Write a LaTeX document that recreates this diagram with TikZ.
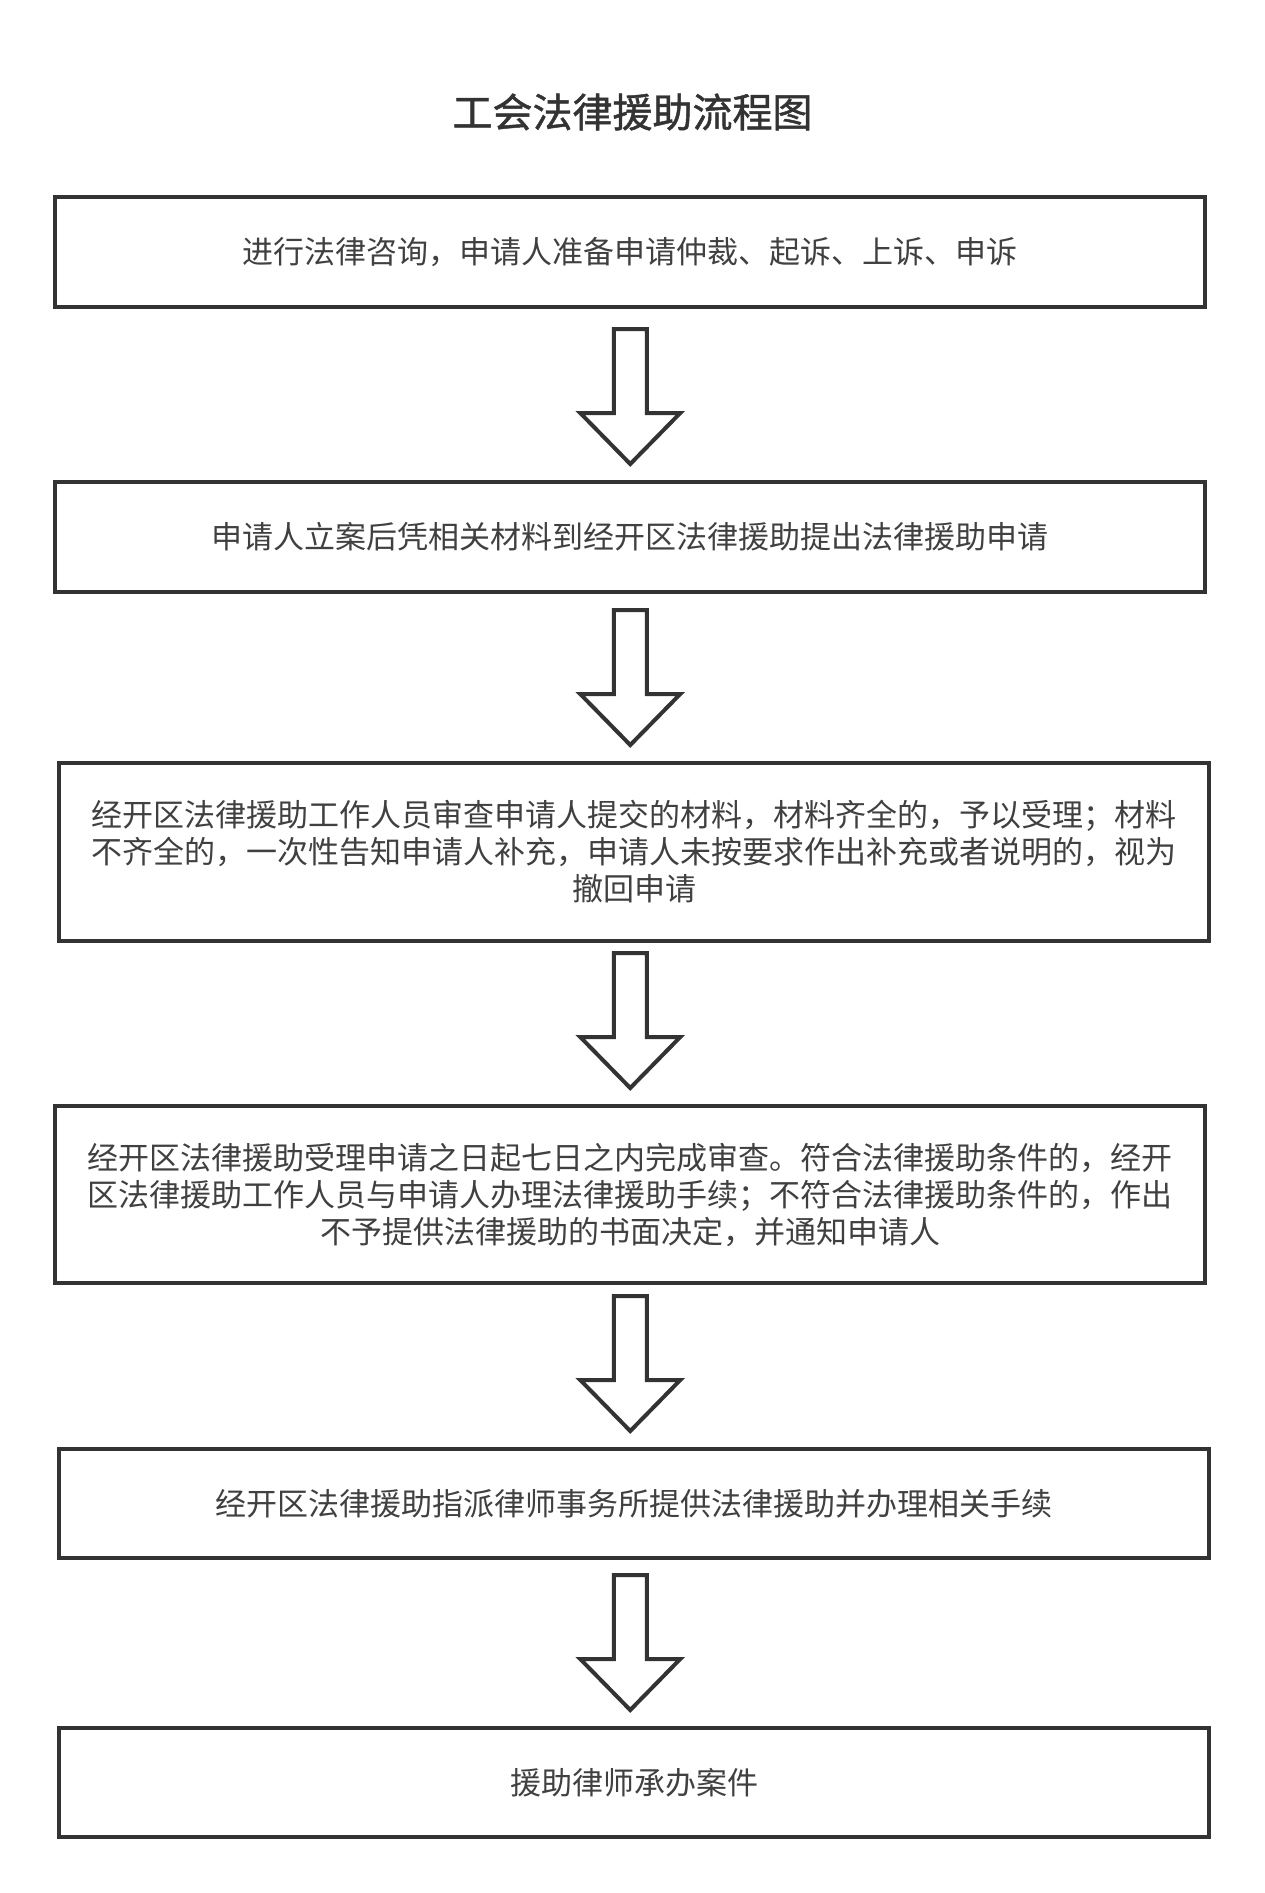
\documentclass[tikz,border=0pt]{standalone}
\usepackage{fontspec}
\newfontfamily\cjkfont{Noto Sans CJK SC}
\newfontfamily\cjktitle[FakeBold=1.2]{Noto Sans CJK SC}
\usetikzlibrary{calc}
\usepackage{xcolor}
\definecolor{linegray}{HTML}{333333}
\definecolor{textgray}{HTML}{404040}

\begin{document}
\begin{tikzpicture}[x=1pt,y=-1pt,
    stepbox/.style={draw=linegray, line width=4pt, minimum width=1150pt, minimum height=110pt,
      inner sep=0pt, align=center, text=textgray, font=\cjkfont\fontsize{31}{37}\selectfont},
    widebox/.style={stepbox, minimum height=178pt},
    bigarrow/.style={draw=linegray, line width=4pt, line join=miter, fill=white}]
  \useasboundingbox (0,0) rectangle (1265,1893);

  % Title
  \node[font=\cjktitle\fontsize{40}{48}\selectfont, text=linegray] (title) at (632.5,112) {工会法律援助流程图};

  % Boxes
  \node[stepbox] (s1) at (630.25,252) {进行法律咨询，申请人准备申请仲裁、起诉、上诉、申诉};
  \node[stepbox] (s2) at (630.25,537) {申请人立案后凭相关材料到经开区法律援助提出法律援助申请};
  \node[widebox] (s3) at (634,852) {经开区法律援助工作人员审查申请人提交的材料，材料齐全的，予以受理；材料\\不齐全的，一次性告知申请人补充，申请人未按要求作出补充或者说明的，视为\\撤回申请};
  \node[widebox, minimum height=177pt] (s4) at (630.25,1194.5) {经开区法律援助受理申请之日起七日之内完成审查。符合法律援助条件的，经开\\区法律援助工作人员与申请人办理法律援助手续；不符合法律援助条件的，作出\\不予提供法律援助的书面决定，并通知申请人};
  \node[stepbox, minimum height=109pt] (s5) at (634,1503.5) {经开区法律援助指派律师事务所提供法律援助并办理相关手续};
  \node[stepbox, minimum height=109pt] (s6) at (634,1782.5) {援助律师承办案件};

  % Arrows
  \foreach \a/\b in {s1/s2,s2/s3,s3/s4,s4/s5,s5/s6}
  {
    \coordinate (tip\b) at ($(\b.north -| s1.south)+(0,-16)$);
    \coordinate (top\a) at ($(tip\b)+(0,-135)$);
    \draw[bigarrow] ($(top\a)+(-16.5,0)$) -- ($(top\a)+(16.5,0)$) -- ($(tip\b)+(16.5,-51)$)
      -- ($(tip\b)+(50,-51)$) -- (tip\b) -- ($(tip\b)+(-50,-51)$) -- ($(tip\b)+(-16.5,-51)$) -- cycle;
  }
\end{tikzpicture}
\end{document}
